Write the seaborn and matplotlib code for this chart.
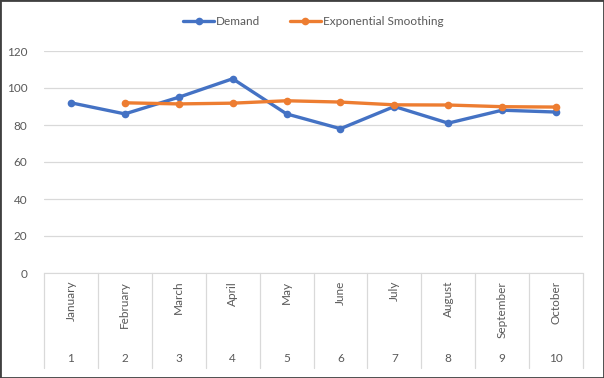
import pandas as pd
import seaborn as sns
import matplotlib.pyplot as plt
from matplotlib.transforms import blended_transform_factory
from matplotlib.patches import Rectangle

# data
months = ["January", "February", "March", "April", "May",
          "June", "July", "August", "September", "October"]
periods = [1, 2, 3, 4, 5, 6, 7, 8, 9, 10]
demand = [92, 86, 95, 105, 86, 78, 90, 81, 88, 87]
smoothing = [None, 92, 91.4, 91.8, 93.1, 92.4, 90.9, 90.8, 89.9, 89.7]
y_ticks = [0, 20, 40, 60, 80, 100, 120]

sns.set_style("white")
plt.rcParams["font.family"] = ["Lato", "DejaVu Sans"]
text_color = "#595959"

df = pd.DataFrame({"pos": range(len(months)), "Demand": demand,
                   "Exponential Smoothing": smoothing})

fig = plt.figure(figsize=(6.04, 3.78), dpi=100)
ax = fig.add_axes([44 / 604, 105 / 378, 539 / 604, 222 / 378])

sns.lineplot(data=df, x="pos", y="Demand", ax=ax, color="#4472C4",
             linewidth=2.4, marker="o", markersize=5.5, markeredgewidth=0,
             label="Demand")
sns.lineplot(data=df.dropna(), x="pos", y="Exponential Smoothing", ax=ax,
             color="#ED7D31", linewidth=2.4, marker="o", markersize=5.5,
             markeredgewidth=0, label="Exponential Smoothing")

ax.set_xlim(-0.5, len(months) - 0.5)
ax.set_ylim(0, 120)
ax.set_yticks(y_ticks)
ax.set_yticklabels([str(v) for v in y_ticks], color=text_color, fontsize=8.5)
ax.tick_params(axis="y", length=0, pad=12)
ax.grid(axis="y", color="#d9d9d9", linewidth=0.9)
ax.set_axisbelow(True)
for side in ["top", "right", "left"]:
    ax.spines[side].set_visible(False)
ax.spines["bottom"].set_color("#d9d9d9")
ax.set_xlabel("")
ax.set_ylabel("")

# two level category axis: month names and period numbers
ax.set_xticks(range(len(months)))
ax.set_xticklabels([])
ax.tick_params(axis="x", length=0)
trans = blended_transform_factory(ax.transData, ax.transAxes)
for i, (m, p) in enumerate(zip(months, periods)):
    ax.text(i, -0.035, m, rotation=90, ha="center", va="top",
            transform=trans, color=text_color, fontsize=8.5)
    ax.text(i, -0.385, str(p), ha="center", va="center",
            transform=trans, color=text_color, fontsize=8.5)
for i in range(len(months) + 1):
    ax.plot([i - 0.5, i - 0.5], [0, -0.43], transform=trans,
            color="#d9d9d9", linewidth=0.9, clip_on=False)

ax.legend(loc="lower center", bbox_to_anchor=(0.5, 1.06), ncol=2,
          frameon=False, fontsize=8.5, labelcolor=text_color,
          handlelength=2.6, handletextpad=0.2, columnspacing=2.5)

fig.patches.append(Rectangle((0, 0), 1, 1, transform=fig.transFigure,
                             fill=False, edgecolor="#404040", linewidth=2))

fig.savefig("out.png", dpi=100)
